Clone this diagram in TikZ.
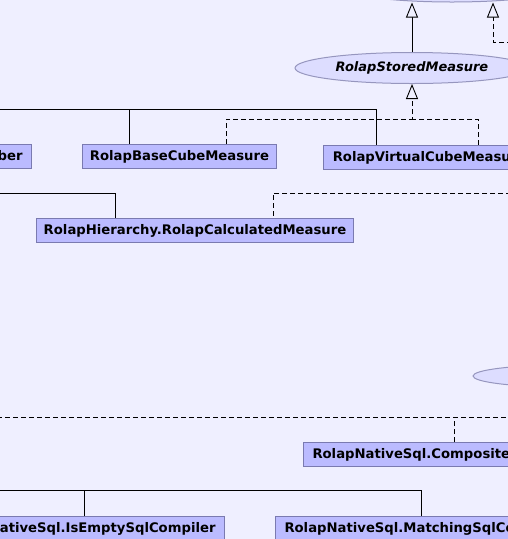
\documentclass[tikz,border=0pt]{standalone}
\usepackage{fontspec}
\newfontfamily\dv{DejaVu Sans}
\usetikzlibrary{arrows.meta,shapes.geometric}
\definecolor{bgc}{RGB}{239,239,255}
\definecolor{boxfill}{RGB}{187,187,255}
\definecolor{boxdraw}{RGB}{122,122,176}
\definecolor{ellfill}{RGB}{221,221,255}
\definecolor{elldraw}{RGB}{150,150,190}
\begin{document}
\begin{tikzpicture}[x=1pt,y=-1pt,
  cls/.style={draw=boxdraw, fill=boxfill, line width=1pt, minimum height=24pt,
    inner xsep=9pt, inner ysep=0pt, text=black,
    font=\dv\bfseries\fontsize{13.2}{15}\selectfont},
  ifc/.style={ellipse, draw=elldraw, fill=ellfill, line width=1pt, inner sep=0pt,
    text=black, font=\dv\bfseries\itshape\fontsize{13}{15}\selectfont},
  lnk/.style={line width=0.9pt, black},
  dsh/.style={lnk, dash pattern=on 5pt off 3pt},
  inh/.style={lnk, -{Triangle[length=15pt,width=12pt,fill=bgc]}},
  impl/.style={dsh, -{Triangle[length=15pt,width=12pt,fill=bgc]}}]
\useasboundingbox (0,0) rectangle (508,539);
\fill[bgc] (0,0) rectangle (508,539);
\begin{scope}
\clip (0,0) rectangle (508,539);
% interfaces
\node[ifc, minimum width=236pt, minimum height=34pt] (top) at (452,-15) {};
\node[ifc, minimum width=234pt, minimum height=31pt] (stored) at (412,68) {RolapStoredMeasure};
\node[ifc, minimum width=180pt, minimum height=22pt] (sqlc) at (563,376) {};
% classes
\node[cls, anchor=north east] (ber) at (32,144) {RolapCalculatedMember};
\node[cls, anchor=north west, inner xsep=5pt, minimum width=194pt] (base) at (82,144) {RolapBaseCubeMeasure};
\node[cls, anchor=north west, minimum width=212pt] (virt) at (323,145) {RolapVirtualCubeMeasure};
\node[cls, anchor=north west, inner xsep=5pt, minimum width=317pt] (calc) at (36,218) {RolapHierarchy.RolapCalculatedMeasure};
\node[cls, anchor=north west] (comp) at (303,442) {RolapNativeSql.CompositeSqlCompiler};
\node[cls, anchor=north east] (isempty) at (225,516) {RolapNativeSql.IsEmptySqlCompiler};
\node[cls, anchor=north west] (match) at (275,516) {RolapNativeSql.MatchingSqlCompiler};
% free ends and joints
\coordinate (r1) at (512,42);
\coordinate (j1) at (412,119);
\coordinate (L1) at (-3,109);
\coordinate (L2) at (-3,193);
\coordinate (R2) at (511,193);
\coordinate (L3) at (-3,417);
\coordinate (R3) at (511,417);
\coordinate (L4) at (-3,490);
% connectors
\draw[inh] (stored.north) -- (stored.north |- top.south);
\draw[impl] (r1) -| ([xshift=41pt]top.south);
\draw[impl] ([xshift=144pt]base.north west) |- (j1) -- (stored.south);
\draw[dsh] ([xshift=155pt]virt.north west) |- (j1);
\draw[lnk] (L1) -| ([xshift=53pt]virt.north west);
\draw[lnk] ([xshift=47pt]base.north west) -- ([xshift=47pt]base.north west |- L1);
\draw[lnk] (L2) -| ([xshift=79pt]calc.north west);
\draw[dsh] (R2) -| ([xshift=237pt]calc.north west);
\draw[dsh] (L3) -- (R3);
\draw[dsh] ([xshift=151pt]comp.north west) -- ([xshift=151pt]comp.north west |- L3);
\draw[lnk] (L4) -| ([xshift=146pt]match.north west);
\draw[lnk] ([xshift=-141pt]isempty.north east) -- ([xshift=-141pt]isempty.north east |- L4);
\end{scope}
\end{tikzpicture}
\end{document}
